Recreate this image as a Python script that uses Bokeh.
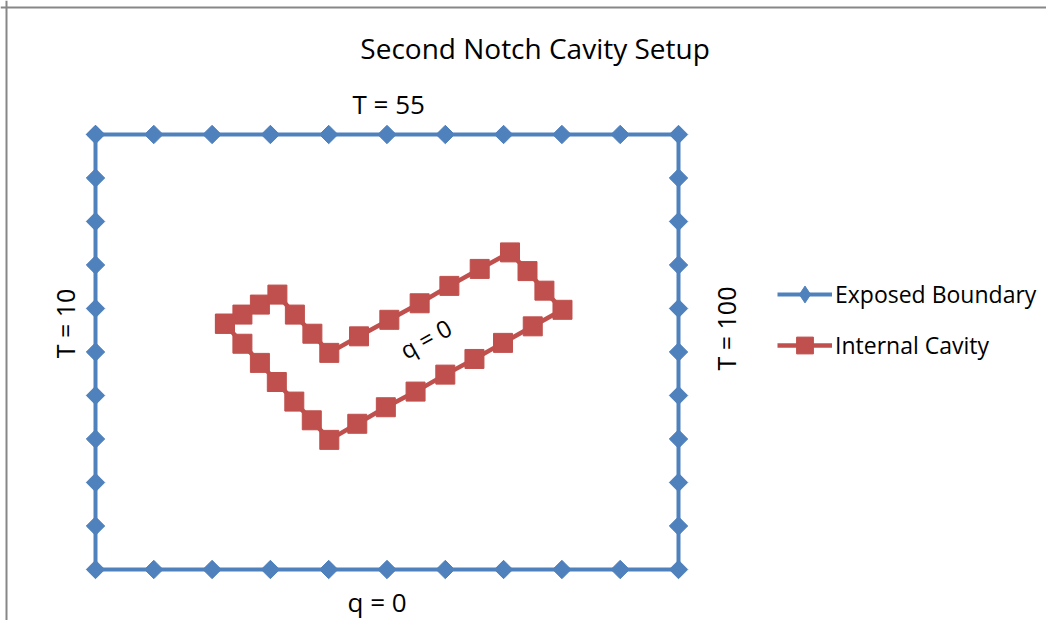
import math
import numpy as np
from bokeh.plotting import figure
from bokeh.models import Range1d, Label, Span, Legend, LegendItem
from bokeh.embed import file_html
from bokeh.resources import INLINE

# Exposed boundary (outer rectangle), grid units
boundary_x = [0, 1, 2, 3, 4, 5, 6, 7, 8, 9, 10,
              10, 10, 10, 10, 10, 10, 10, 10, 10, 10,
              9, 8, 7, 6, 5, 4, 3, 2, 1, 0,
              0, 0, 0, 0, 0, 0, 0, 0, 0, 0]
boundary_y = [10, 10, 10, 10, 10, 10, 10, 10, 10, 10, 10,
              9, 8, 7, 6, 5, 4, 3, 2, 1, 0,
              0, 0, 0, 0, 0, 0, 0, 0, 0, 0,
              1, 2, 3, 4, 5, 6, 7, 8, 9, 10]

# Internal cavity (notch), grid units
cavity_x = [2.22, 2.52, 2.82, 3.12, 3.42, 3.72, 4.01, 4.52, 5.04, 5.56, 6.07,
            6.59, 7.11, 7.41, 7.70, 8.01, 7.50, 6.99, 6.50, 6.00, 5.49, 4.98,
            4.49, 4.01, 3.71, 3.41, 3.11, 2.82, 2.52, 2.22]
cavity_y = [5.65, 5.86, 6.09, 6.32, 5.86, 5.42, 4.98, 5.36, 5.74, 6.12, 6.52,
            6.91, 7.29, 6.86, 6.41, 5.97, 5.59, 5.21, 4.84, 4.48, 4.09, 3.73,
            3.35, 2.98, 3.43, 3.86, 4.31, 4.75, 5.19, 5.65]

title_text = "Second Notch Cavity Setup"
series_names = ["Exposed Boundary", "Internal Cavity"]
blue = "#4F81BD"
red = "#C0504D"
FONT = "Open Sans"

W, H = 1046, 620
X0, X1 = -95 / 58.3, (W - 95) / 58.3
Y0, Y1 = (569 - H) / 43.5, 569 / 43.5

p = figure(width=W, height=H, output_backend="svg", toolbar_location=None,
           x_range=Range1d(X0, X1), y_range=Range1d(Y0, Y1),
           min_border=0, min_border_left=0, min_border_right=0,
           min_border_top=0, min_border_bottom=0)
p.axis.visible = False
p.grid.visible = False
p.outline_line_color = None
p.background_fill_color = "white"
p.border_fill_color = "white"

# chart-area border (top and left visible in reference)
p.add_layout(Span(location=(569 - 7.0) / 43.5, dimension="width",
                  line_color="#878787", line_width=2))
p.add_layout(Span(location=(6.0 - 95) / 58.3, dimension="height",
                  line_color="#878787", line_width=2))

bl = p.line(boundary_x, boundary_y, line_color=blue, line_width=4)
bm = p.scatter(boundary_x, boundary_y, marker="square", size=13, angle=math.pi / 4,
               fill_color=blue, line_color=blue)
cl = p.line(cavity_x, cavity_y, line_color=red, line_width=4.5)
cm = p.scatter(cavity_x, cavity_y, marker="square", size=19,
               fill_color=red, line_color=red)
# legend-only diamond key (NaN position, never drawn in the plot)
bkey = p.scatter(x=np.array([np.nan]), y=np.array([np.nan]), marker="diamond",
                 fill_color=blue, line_color=blue)

legend = Legend(items=[LegendItem(label=series_names[0], renderers=[bl, bkey]),
                       LegendItem(label=series_names[1], renderers=[cl, cm])],
                location=(777, 254), glyph_width=55, glyph_height=42,
                label_height=42, label_standoff=3, spacing=9, padding=0, margin=0,
                border_line_color=None, background_fill_alpha=0,
                label_text_font=FONT, label_text_font_size="23px",
                label_text_color="black")
p.add_layout(legend)

def lab(x, y, text, size, angle=0.0, xo=0, yo=0, base="alphabetic"):
    p.add_layout(Label(x=x, y=y, text=text, angle=angle, x_offset=xo, y_offset=yo,
                       text_font=FONT, text_font_size=size, text_color="black",
                       text_align="center", text_baseline=base))

lab(7.54, 11.74, title_text, "28px", yo=11)
lab(5.03, 10.476, "T = 55", "26px", yo=10)
lab(4.83, -0.982, "q = 0", "26px", yo=10)
lab(-0.377, 5.655, "T = 10", "25px", angle=math.pi / 2, xo=-9)
lab(10.978, 5.54, "T = 100", "25px", angle=math.pi / 2, xo=-10)
lab(5.66, 5.31, "q = 0", "24px", angle=math.radians(29), base="middle")

open("out.html", "w").write(file_html(p, INLINE))
